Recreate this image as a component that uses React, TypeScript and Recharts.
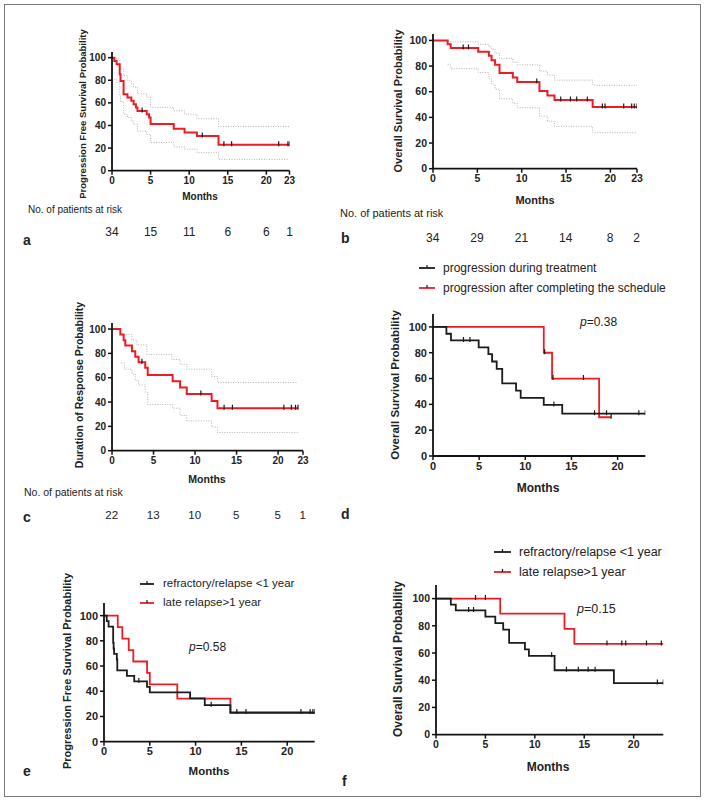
import React from 'react';
import { LineChart, Line, XAxis, YAxis } from 'recharts';

const RED = '#ec1c24';
const BLACK = '#1b1b1b';
const GREY = '#b3b3b3';
const FONT = "'Liberation Sans', Arial, Helvetica, sans-serif";

// a: progression free survival, all patients
const aTimes = [0.3, 0.6, 1.0, 1.1, 1.5, 2.0, 2.5, 2.8, 3.1, 3.3, 4.5, 4.8, 5.0, 8.0, 9.4, 11.0, 13.8];
const aSurv = [97.1, 94.1, 85.3, 79.4, 67.6, 64.7, 61.8, 58.8, 55.9, 52.9, 50.0, 47.1, 41.2, 37.1, 33.7, 30.6, 22.9];
const aCensor = [3.9, 11.7, 14.5, 15.5, 21.6, 22.8, 23];
const aUpperTimes = [0, 0.6, 1.0, 1.1, 1.5, 2.0, 2.5, 2.8, 3.3, 4.5, 5.0, 8.0, 9.4, 11.0, 13.8];
const aUpperVals = [100, 99, 93, 90, 84, 80, 77, 74, 68, 65, 56, 53, 50, 46, 39];
const aLowerTimes = [0.3, 0.6, 1.0, 1.1, 1.5, 2.0, 2.5, 2.8, 3.3, 4.5, 5.0, 8.0, 9.4, 11.0, 13.8];
const aLowerVals = [81, 78, 66, 61, 50, 47, 44, 41, 35, 32, 25, 21, 19, 16, 10];
const aRiskTimes = [0, 5, 10, 15, 20, 23];
const aRisk = [34, 15, 11, 6, 6, 1];

// b: overall survival, all patients
const bTimes = [1.65, 2.0, 5.1, 6.3, 6.6, 7.0, 7.5, 9.0, 9.5, 12.0, 12.9, 13.7, 18.0];
const bSurv = [97.1, 94.1, 91.1, 88.0, 84.5, 81.0, 74.5, 71.0, 67.5, 60.5, 57.0, 53.5, 48.0];
const bCensor = [3.4, 4.0, 11.7, 14.4, 15.5, 16.2, 17.4, 19.1, 19.4, 21.5, 22.4, 22.7, 23];
const bUpperTimes = [1.65, 5.1, 6.3, 6.6, 7.0, 7.5, 9.0, 9.5, 12.0, 12.9, 13.7, 18.0];
const bUpperVals = [99, 97, 95, 93, 90, 86, 83, 81, 76, 73, 69, 65];
const bLowerTimes = [1.65, 2.0, 5.1, 6.3, 6.6, 7.0, 7.5, 9.0, 9.5, 12.0, 12.9, 13.7, 18.0];
const bLowerVals = [81, 78, 75, 70, 66, 62, 54.5, 51, 47.5, 41, 37, 33, 28];
const bRiskTimes = [0, 5, 10, 15, 20, 23];
const bRisk = [34, 29, 21, 14, 8, 2];

// c: duration of response
const cTimes = [1.0, 1.4, 1.6, 2.4, 2.8, 3.2, 4.0, 4.3, 7.3, 8.2, 9.0, 12.0, 12.7];
const cSurv = [95.5, 90.9, 86.4, 81.8, 77.3, 72.7, 68.2, 62.3, 57.1, 51.9, 46.7, 40.9, 35.0];
const cCensor = [3.6, 10.7, 13.5, 14.5, 20.7, 21.6, 22.1, 22.4];
const cUpperTimes = [1.1, 2.4, 3.0, 4.2, 7.2, 8.2, 9.0, 12.0, 12.7];
const cUpperVals = [95.6, 91, 87, 79, 75, 71, 67, 61, 56];
const cLowerTimes = [1.1, 1.5, 2.4, 2.8, 3.2, 4.0, 4.3, 7.3, 8.2, 9.0, 12.0, 12.7];
const cLowerVals = [72, 67, 63, 58, 54, 48, 38, 35, 29, 24.5, 19.5, 15];
const cRiskTimes = [0, 5, 10, 15, 20, 23];
const cRisk = [22, 13, 10, 5, 5, 1];

// d: OS by time of progression
const dNames = ['progression during treatment', 'progression after completing the schedule'];
const dBlackTimes = [1.45, 1.95, 4.95, 6.0, 6.4, 6.9, 7.5, 9.0, 9.5, 12.0, 14.0];
const dBlackSurv = [94.7, 89.5, 84.2, 78.9, 73.2, 67.5, 56.2, 50.6, 45.0, 39.6, 32.8];
const dBlackCensor = [3.3, 4.0, 13.1, 17.5, 18.8, 22.3, 23];
const dRedTimes = [12.0, 12.9, 18.0];
const dRedSurv = [80, 60, 30];
const dRedCensor = [12.1, 13.0, 16.3, 19.3];

// e: PFS by relapse type
const eNames = ['refractory/relapse <1 year', 'late relapse>1 year'];
const eBlackTimes = [0.3, 0.5, 1.0, 1.05, 1.1, 1.4, 1.45, 2.5, 3.3, 4.7, 5.0, 9.4, 11.0, 13.8];
const eBlackSurv = [95.7, 91.3, 78.3, 73.9, 69.6, 65.2, 56.5, 52.2, 47.8, 43.5, 39.1, 34.4, 29.0, 23.2];
const eBlackCensor = [3.8, 11.7, 14.5, 15.5, 21.5, 22.5, 22.8, 23];
const eRedTimes = [1.5, 2.0, 2.7, 3.2, 4.7, 5.0, 8.0, 13.8];
const eRedSurv = [90.9, 81.8, 72.7, 63.6, 54.5, 45.5, 34.1, 22.7];

// f: OS by relapse type
const fBlackTimes = [1.5, 2.0, 5.0, 6.0, 6.8, 7.4, 9.0, 9.4, 12.0, 18.0];
const fBlackSurv = [95.6, 91.3, 86.8, 82.0, 77.2, 67.5, 62.7, 57.9, 47.3, 37.9];
const fBlackCensor = [3.3, 3.8, 11.7, 13.2, 14.4, 15.4, 16.1, 22.4, 23];
const fRedTimes = [6.5, 13.0, 14.0];
const fRedSurv = [88.9, 77.8, 66.7];
const fRedCensor = [4.0, 5.0, 17.3, 18.8, 19.2, 21.3, 22.8];

type Pt = { t: number; s: number; c?: number };

const valueAt = (times: number[], vals: number[], t: number, start: number) => {
  let v = start;
  times.forEach((tt, i) => {
    if (tt <= t) v = vals[i];
  });
  return v;
};

const km = (times: number[], surv: number[], censor: number[], end: number): Pt[] => {
  const pts: Pt[] = [{ t: 0, s: 100 }];
  times.forEach((t, i) => pts.push({ t, s: surv[i] }));
  censor.forEach((t) => pts.push({ t, s: valueAt(times, surv, t, 100), c: 1 }));
  if (!censor.includes(end)) pts.push({ t: end, s: valueAt(times, surv, end, 100) });
  return pts.sort((p, q) => p.t - q.t || (p.c ? 1 : 0) - (q.c ? 1 : 0));
};

const band = (times: number[], vals: number[], end: number): Pt[] => [
  ...times.map((t, i) => ({ t, s: vals[i] })),
  { t: end, s: vals[vals.length - 1] },
];

const censorDot = (p: any) => {
  if (!p.payload || !p.payload.c) return <g key={`n${p.index}`} />;
  return (
    <line key={`c${p.index}`} x1={p.cx} x2={p.cx} y1={p.cy - 3.5} y2={p.cy + 1.5} stroke={BLACK} strokeWidth={1.2} />
  );
};

type Curve = { data: Pt[]; color: string; width: number; dashed?: boolean; censor?: boolean };
type Box = { L: number; R: number; top: number; B: number };

function KMPanel({ box, yMax, xTicks, fs, curves }: { box: Box; yMax: number; xTicks: number[]; fs: number; curves: Curve[] }) {
  const padL = 44, padT = 8, padR = 14, axisH = 26;
  const w = box.R - box.L + padL + padR;
  const h = box.B - box.top + padT + axisH;
  const tick = { fontSize: fs, fontWeight: 'bold', fill: '#222', fontFamily: FONT };
  return (
    <div style={{ position: 'absolute', left: box.L - padL, top: box.top - padT }}>
      <LineChart width={w} height={h} margin={{ top: padT, right: padR, left: 0, bottom: 0 }}>
        <XAxis
          dataKey="t"
          type="number"
          domain={[0, 23]}
          ticks={xTicks}
          interval={0}
          allowDataOverflow
          height={axisH}
          tickSize={4}
          tickMargin={2}
          axisLine={{ stroke: '#111', strokeWidth: 1.8 }}
          tickLine={{ stroke: '#111', strokeWidth: 1.5 }}
          tick={tick}
        />
        <YAxis
          type="number"
          domain={[0, yMax]}
          ticks={[0, 20, 40, 60, 80, 100]}
          interval={0}
          allowDataOverflow
          width={padL}
          tickSize={4}
          tickMargin={2}
          axisLine={{ stroke: '#111', strokeWidth: 1.8 }}
          tickLine={{ stroke: '#111', strokeWidth: 1.5 }}
          tick={tick}
        />
        {curves.map((c, i) => (
          <Line
            key={i}
            data={c.data}
            dataKey="s"
            type="stepAfter"
            stroke={c.color}
            strokeWidth={c.width}
            strokeDasharray={c.dashed ? '1 1.5' : undefined}
            dot={c.censor ? censorDot : false}
            activeDot={false}
            isAnimationActive={false}
          />
        ))}
      </LineChart>
    </div>
  );
}

const Txt = ({ x, y, fs, bold, children, anchor = 'left' }: any) => (
  <div
    style={{
      position: 'absolute',
      left: x,
      top: y,
      fontSize: fs,
      fontWeight: bold ? 'bold' : 'normal',
      whiteSpace: 'nowrap',
      color: '#222',
      lineHeight: 1,
      transform: anchor === 'center' ? 'translate(-50%,-50%)' : 'translate(0,-50%)',
    }}
  >
    {children}
  </div>
);

const VLabel = ({ x, y, fs, children }: any) => (
  <div
    style={{
      position: 'absolute',
      left: x,
      top: y,
      fontSize: fs,
      fontWeight: 'bold',
      whiteSpace: 'nowrap',
      color: '#222',
      lineHeight: 1,
      transform: 'translate(-50%,-50%) rotate(-90deg)',
    }}
  >
    {children}
  </div>
);

const Swatch = ({ x, y, color, w }: any) => (
  <svg style={{ position: 'absolute', left: x, top: y - 4 }} width={w} height={8}>
    <line x1={0} x2={w} y1={4} y2={4} stroke={color} strokeWidth={1.8} />
    <line x1={w / 2} x2={w / 2} y1={1} y2={4} stroke={BLACK} strokeWidth={1.2} />
  </svg>
);

const Risk = ({ box, times, counts, y, fs }: any) => (
  <>
    {times.map((t: number, i: number) => (
      <Txt key={i} x={box.L + (t / 23) * (box.R - box.L)} y={y} fs={fs} anchor="center">
        {counts[i]}
      </Txt>
    ))}
  </>
);

const boxA = { L: 112, R: 289.5, top: 52, B: 170.7 };
const boxB = { L: 432.7, R: 636.7, top: 34.3, B: 169 };
const boxC = { L: 111.7, R: 302.7, top: 323, B: 450.7 };
const boxD = { L: 432.7, R: 645, top: 314, B: 456 };
const boxE = { L: 104.3, R: 315, top: 603, B: 741.7 };
const boxF = { L: 435.7, R: 663, top: 585.4, B: 735 };

const ticks23 = [0, 5, 10, 15, 20, 23];
const ticks20 = [0, 5, 10, 15, 20];

export default function App() {
  return (
    <div style={{ position: 'absolute', left: 0, top: 0, width: 705, height: 800, background: '#fff', fontFamily: FONT }}>
      <div style={{ position: 'absolute', left: 4, top: 4, width: 695, height: 791, border: '1.5px solid #7a7a7a' }} />

      {/* a */}
      <KMPanel
        box={boxA}
        yMax={105}
        xTicks={ticks23}
        fs={10}
        curves={[
          { data: band(aUpperTimes, aUpperVals, 23), color: GREY, width: 1, dashed: true },
          { data: band(aLowerTimes, aLowerVals, 23), color: GREY, width: 1, dashed: true },
          { data: km(aTimes, aSurv, aCensor, 23), color: RED, width: 2, censor: true },
        ]}
      />
      <VLabel x={83} y={114} fs={9.5}>Progression Free Survival Probability</VLabel>
      <Txt x={200} y={197} fs={10} bold anchor="center">Months</Txt>
      <Txt x={28} y={210} fs={10}>No. of patients at risk</Txt>
      <Risk box={boxA} times={aRiskTimes} counts={aRisk} y={232} fs={12} />
      <Txt x={23} y={240} fs={14} bold>a</Txt>

      {/* b */}
      <KMPanel
        box={boxB}
        yMax={105}
        xTicks={ticks23}
        fs={10.5}
        curves={[
          { data: band(bUpperTimes, bUpperVals, 23), color: GREY, width: 1, dashed: true },
          { data: band(bLowerTimes, bLowerVals, 23), color: GREY, width: 1, dashed: true },
          { data: km(bTimes, bSurv, bCensor, 23), color: RED, width: 2, censor: true },
        ]}
      />
      <VLabel x={398} y={101} fs={11}>Overall Survival Probability</VLabel>
      <Txt x={535} y={200} fs={11} bold anchor="center">Months</Txt>
      <Txt x={340} y={213} fs={11}>No. of patients at risk</Txt>
      <Risk box={boxB} times={bRiskTimes} counts={bRisk} y={238} fs={12} />
      <Txt x={341} y={238} fs={14} bold>b</Txt>

      {/* c */}
      <KMPanel
        box={boxC}
        yMax={105}
        xTicks={ticks23}
        fs={10}
        curves={[
          { data: band(cUpperTimes, cUpperVals, 22.4), color: GREY, width: 1, dashed: true },
          { data: band(cLowerTimes, cLowerVals, 22.4), color: GREY, width: 1, dashed: true },
          { data: km(cTimes, cSurv, cCensor, 22.4), color: RED, width: 2, censor: true },
        ]}
      />
      <VLabel x={79} y={385} fs={10.5}>Duration of Response Probability</VLabel>
      <Txt x={207} y={479} fs={10.5} bold anchor="center">Months</Txt>
      <Txt x={24} y={492} fs={10.5}>No. of patients at risk</Txt>
      <Risk box={boxC} times={cRiskTimes} counts={cRisk} y={516} fs={11.5} />
      <Txt x={23} y={517} fs={14} bold>c</Txt>

      {/* d */}
      <KMPanel
        box={boxD}
        yMax={110}
        xTicks={ticks20}
        fs={11}
        curves={[
          { data: km(dRedTimes, dRedSurv, dRedCensor, 19.3), color: RED, width: 1.8, censor: true },
          { data: km(dBlackTimes, dBlackSurv, dBlackCensor, 23), color: BLACK, width: 1.8, censor: true },
        ]}
      />
      <VLabel x={396} y={385} fs={11.5}>Overall Survival Probability</VLabel>
      <Txt x={538} y={488} fs={12} bold anchor="center">Months</Txt>
      <Txt x={341} y={514} fs={14} bold>d</Txt>
      <Swatch x={419} y={268} w={16} color={BLACK} />
      <Swatch x={419} y={288} w={16} color={RED} />
      <Txt x={443} y={268} fs={12}>{dNames[0]}</Txt>
      <Txt x={443} y={288} fs={12}>{dNames[1]}</Txt>
      <Txt x={580} y={322} fs={12}><i>p</i>=0.38</Txt>

      {/* e */}
      <KMPanel
        box={boxE}
        yMax={110}
        xTicks={ticks20}
        fs={11}
        curves={[
          { data: km(eRedTimes, eRedSurv, [], 23), color: RED, width: 1.8 },
          { data: km(eBlackTimes, eBlackSurv, eBlackCensor, 23), color: BLACK, width: 1.8, censor: true },
        ]}
      />
      <VLabel x={67} y={671} fs={11}>Progression Free Survival Probability</VLabel>
      <Txt x={209} y={772} fs={11.5} bold anchor="center">Months</Txt>
      <Txt x={23} y={771} fs={14} bold>e</Txt>
      <Swatch x={140} y={584} w={14} color={BLACK} />
      <Swatch x={140} y={603} w={14} color={RED} />
      <Txt x={163} y={584} fs={11.5}>{eNames[0]}</Txt>
      <Txt x={163} y={603} fs={11.5}>{eNames[1]}</Txt>
      <Txt x={189} y={647} fs={12}><i>p</i>=0.58</Txt>

      {/* f */}
      <KMPanel
        box={boxF}
        yMax={110}
        xTicks={ticks20}
        fs={10.5}
        curves={[
          { data: km(fRedTimes, fRedSurv, fRedCensor, 23), color: RED, width: 1.8, censor: true },
          { data: km(fBlackTimes, fBlackSurv, fBlackCensor, 23), color: BLACK, width: 1.8, censor: true },
        ]}
      />
      <VLabel x={398} y={659} fs={12}>Overall Survival Probability</VLabel>
      <Txt x={548} y={767} fs={12} bold anchor="center">Months</Txt>
      <Txt x={342} y={781} fs={14} bold>f</Txt>
      <Swatch x={494} y={552} w={17} color={BLACK} />
      <Swatch x={494} y={572} w={17} color={RED} />
      <Txt x={519} y={552} fs={12.5}>{eNames[0]}</Txt>
      <Txt x={519} y={572} fs={12.5}>{eNames[1]}</Txt>
      <Txt x={577} y={609} fs={12.5}><i>p</i>=0.15</Txt>
    </div>
  );
}
